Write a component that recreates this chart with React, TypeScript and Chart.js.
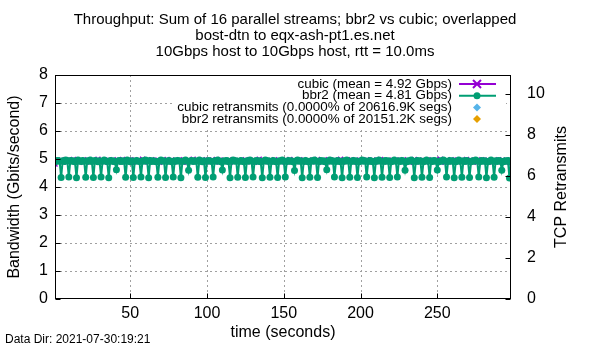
import React, { useEffect, useRef } from "react";
import { Chart, registerables } from "chart.js";
Chart.register(...registerables);

const FONT = '"Liberation Sans", Arial, sans-serif';

const TITLE_LINES = [
  "Throughput: Sum of 16 parallel streams; bbr2 vs cubic; overlapped",
  "bost-dtn to eqx-ash-pt1.es.net",
  "10Gbps host to 10Gbps host, rtt = 10.0ms",
];
const X_LABEL = "time (seconds)";
const Y_LABEL = "Bandwidth (Gbits/second)";
const Y2_LABEL = "TCP Retransmits";
const DATA_DIR = "Data Dir: 2021-07-30:19:21";

const X_MIN = 1;
const X_MAX = 298;
const X_TICKS = [50, 100, 150, 200, 250];
const Y_TICKS = [0, 1, 2, 3, 4, 5, 6, 7, 8];
const Y2_TICKS = [0, 2, 4, 6, 8, 10];
const Y2_MAX = 10.93;

const START_TIME = 1;

const LABEL_CUBIC = "cubic (mean = 4.92 Gbps)";
const LABEL_BBR2 = "bbr2 (mean = 4.81 Gbps)";
const LABEL_CUBIC_RETR = "cubic retransmits (0.0000% of 20616.9K segs)";
const LABEL_BBR2_RETR = "bbr2 retransmits (0.0000% of 20151.2K segs)";

const CUBIC = [
  4.82, 4.93, 4.95, 4.91, 4.96, 4.90, 4.94, 4.97, 4.89, 4.93, 4.95, 4.92, 4.98, 4.90, 4.93, 4.94, 4.88, 4.96, 4.92, 4.95,
  4.91, 4.97, 4.93, 4.89, 4.94, 4.96, 4.90, 4.92, 4.99, 4.91, 4.93, 4.95, 4.88, 4.94, 4.92, 4.96, 4.90, 4.93, 4.97, 4.91,
  4.94, 4.89, 4.95, 4.92, 4.98, 4.90, 4.93, 4.91, 4.96, 4.94, 4.88, 4.93, 4.97, 4.92, 4.90, 4.95, 4.93, 4.99, 4.89, 4.92,
  4.95, 4.91, 4.94, 4.97, 4.90, 4.93, 4.92, 4.96, 4.88, 4.94, 4.91, 4.95, 4.93, 4.98, 4.90, 4.92, 4.96, 4.89, 4.94, 4.93,
  4.91, 4.97, 4.92, 4.90, 4.95, 4.93, 4.88, 4.96, 4.92, 4.94, 4.99, 4.90, 4.93, 4.91, 4.95, 4.92, 4.97, 4.89, 4.94, 4.92,
  4.96, 4.90, 4.93, 4.95, 4.91, 4.98, 4.92, 4.89, 4.94, 4.93, 4.96, 4.90, 4.92, 4.95, 4.88, 4.94, 4.97, 4.91, 4.93, 4.92,
  4.95, 4.89, 4.94, 4.92, 4.97, 4.90, 4.93, 4.96, 4.91, 4.94, 4.88, 4.95, 4.92, 4.99, 4.90, 4.93, 4.91, 4.96, 4.94, 4.92,
  4.89, 4.95, 4.93, 4.97, 4.90, 4.92, 4.94, 4.91, 4.96, 4.93, 4.88, 4.95, 4.92, 4.98, 4.90, 4.94, 4.93, 4.91, 4.96, 4.92,
  4.94, 4.90, 4.97, 4.92, 4.89, 4.95, 4.93, 4.91, 4.96, 4.94, 4.90, 4.98, 4.92, 4.93, 4.88, 4.95, 4.91, 4.94, 4.97, 4.92,
  4.90, 4.93, 4.96, 4.91, 4.94, 4.92, 4.99, 4.89, 4.93, 4.95, 4.91, 4.94, 4.92, 4.97, 4.90, 4.93, 4.96, 4.88, 4.94, 4.92,
  4.95, 4.91, 4.93, 4.97, 4.90, 4.94, 4.92, 4.96, 4.89, 4.93, 4.95, 4.91, 4.98, 4.92, 4.90, 4.94, 4.93, 4.96, 4.91, 4.92,
  4.94, 4.89, 4.96, 4.93, 4.91, 4.95, 4.92, 4.97, 4.90, 4.93, 4.94, 4.88, 4.95, 4.92, 4.98, 4.91, 4.93, 4.96, 4.90, 4.94,
  4.92, 4.95, 4.91, 4.97, 4.89, 4.93, 4.94, 4.90, 4.96, 4.92, 4.93, 4.99, 4.91, 4.94, 4.88, 4.95, 4.92, 4.93, 4.97, 4.90,
  4.94, 4.92, 4.96, 4.91, 4.93, 4.89, 4.95, 4.92, 4.98, 4.90, 4.93, 4.94, 4.91, 4.96, 4.92, 4.88, 4.95, 4.93, 4.97, 4.91,
  4.93, 4.90, 4.96, 4.92, 4.94, 4.89, 4.95, 4.93, 4.91, 4.97, 4.92, 4.90, 4.94, 4.93, 4.96, 4.91, 4.88, 4.86,
];

const BBR2 = [
  4.90, 4.93, 4.95, 4.92, 4.34, 4.94, 4.91, 4.96, 4.93, 4.36, 4.95, 4.92, 4.94, 4.90, 4.33, 4.96, 4.93, 4.91, 4.95, 4.92,
  4.35, 4.94, 4.92, 4.96, 4.91, 4.34, 4.95, 4.93, 4.90, 4.94, 4.36, 4.92, 4.96, 4.93, 4.91, 4.33, 4.95, 4.92, 4.94, 4.90,
  4.62, 4.93, 4.95, 4.91, 4.94, 4.92, 4.35, 4.96, 4.93, 4.90, 4.94, 4.34, 4.92, 4.95, 4.93, 4.91, 4.36, 4.94, 4.92, 4.96,
  4.93, 4.33, 4.95, 4.91, 4.94, 4.92, 4.90, 4.35, 4.93, 4.96, 4.92, 4.94, 4.34, 4.91, 4.95, 4.93, 4.90, 4.36, 4.94, 4.92,
  4.95, 4.93, 4.33, 4.91, 4.94, 4.96, 4.92, 4.60, 4.93, 4.95, 4.91, 4.94, 4.92, 4.35, 4.96, 4.93, 4.90, 4.94, 4.34, 4.92,
  4.95, 4.93, 4.91, 4.36, 4.94, 4.92, 4.96, 4.93, 4.90, 4.61, 4.94, 4.92, 4.95, 4.91, 4.33, 4.93, 4.96, 4.92, 4.94, 4.35,
  4.91, 4.95, 4.93, 4.90, 4.34, 4.94, 4.92, 4.96, 4.93, 4.36, 4.91, 4.95, 4.92, 4.94, 4.90, 4.33, 4.93, 4.96, 4.92, 4.94,
  4.35, 4.91, 4.95, 4.93, 4.90, 4.34, 4.94, 4.92, 4.96, 4.93, 4.36, 4.91, 4.95, 4.92, 4.94, 4.90, 4.59, 4.93, 4.96, 4.92,
  4.94, 4.33, 4.91, 4.95, 4.93, 4.90, 4.35, 4.94, 4.92, 4.96, 4.93, 4.34, 4.91, 4.95, 4.92, 4.94, 4.90, 4.62, 4.93, 4.96,
  4.92, 4.94, 4.36, 4.91, 4.95, 4.93, 4.90, 4.33, 4.94, 4.92, 4.96, 4.93, 4.35, 4.91, 4.95, 4.92, 4.94, 4.34, 4.90, 4.93,
  4.96, 4.92, 4.94, 4.36, 4.91, 4.95, 4.93, 4.90, 4.33, 4.94, 4.92, 4.96, 4.93, 4.35, 4.91, 4.95, 4.92, 4.94, 4.34, 4.90,
  4.93, 4.96, 4.92, 4.36, 4.94, 4.91, 4.95, 4.93, 4.60, 4.90, 4.94, 4.92, 4.96, 4.93, 4.33, 4.91, 4.95, 4.92, 4.94, 4.35,
  4.90, 4.93, 4.96, 4.92, 4.34, 4.94, 4.91, 4.95, 4.93, 4.61, 4.90, 4.94, 4.92, 4.96, 4.93, 4.36, 4.91, 4.95, 4.92, 4.94,
  4.33, 4.90, 4.93, 4.96, 4.92, 4.35, 4.94, 4.91, 4.95, 4.93, 4.34, 4.90, 4.94, 4.92, 4.96, 4.93, 4.36, 4.91, 4.95, 4.92,
  4.94, 4.33, 4.90, 4.93, 4.96, 4.92, 4.35, 4.94, 4.91, 4.95, 4.93, 4.60, 4.90, 4.94, 4.92, 4.95, 4.32, 4.90,
];

const CUBIC_RETRANS: number[] = [];
const BBR2_RETRANS: number[] = [];

const COLOR_CUBIC = "#9400d3";
const COLOR_BBR2 = "#009e73";
const COLOR_CUBIC_RETR = "#56b4e9";
const COLOR_BBR2_RETR = "#e69f00";

const toPoints = (arr: number[]) => arr.map((v, i) => ({ x: START_TIME + i, y: v }));

const decorPlugin = {
  id: "decor",
  beforeDatasetsDraw(chart: any) {
    const { ctx, chartArea: a, scales } = chart;
    ctx.save();
    ctx.strokeStyle = "#a0a0a0";
    ctx.lineWidth = 1;
    ctx.setLineDash([2, 3]);
    for (const v of X_TICKS) {
      const x = Math.round(scales.x.getPixelForValue(v)) + 0.5;
      ctx.beginPath();
      ctx.moveTo(x, a.top);
      ctx.lineTo(x, a.bottom);
      ctx.stroke();
    }
    for (const v of Y_TICKS) {
      if (v === 0 || v === 8) continue;
      const y = Math.round(scales.y.getPixelForValue(v)) + 0.5;
      ctx.beginPath();
      ctx.moveTo(a.left, y);
      ctx.lineTo(a.right, y);
      ctx.stroke();
    }
    ctx.restore();
  },
  afterDraw(chart: any) {
    const { ctx, chartArea: a, scales } = chart;
    ctx.save();
    // legend
    ctx.font = `13.4px ${FONT}`;
    const ds = chart.data.datasets;
    const textRight = a.right - 59;
    let maxW = 0;
    for (const d of ds) maxW = Math.max(maxW, ctx.measureText(d.label).width);
    ctx.fillStyle = "#fff";
    ctx.fillRect(textRight - maxW - 4, a.top + 1, a.right - 5 - (textRight - maxW - 4), 51);
    ds.forEach((d: any, i: number) => {
      const y = a.top + 9 + i * 11.7;
      ctx.fillStyle = "#000";
      ctx.textAlign = "right";
      ctx.textBaseline = "middle";
      ctx.fillText(d.label, textRight, y);
      const mx = textRight + 25;
      ctx.fillStyle = d.borderColor;
      ctx.strokeStyle = d.borderColor;
      if (d.showLine !== false) {
        ctx.lineWidth = 2;
        ctx.beginPath();
        ctx.moveTo(textRight + 7, y);
        ctx.lineTo(textRight + 44, y);
        ctx.stroke();
      }
      if (d.pointStyle === "crossRot") {
        ctx.lineWidth = 2;
        ctx.beginPath();
        ctx.moveTo(mx - 4, y - 4);
        ctx.lineTo(mx + 4, y + 4);
        ctx.moveTo(mx - 4, y + 4);
        ctx.lineTo(mx + 4, y - 4);
        ctx.stroke();
      } else if (d.pointStyle === "circle") {
        ctx.beginPath();
        ctx.arc(mx, y, 3.5, 0, Math.PI * 2);
        ctx.fill();
      } else {
        ctx.beginPath();
        ctx.moveTo(mx, y - 4);
        ctx.lineTo(mx + 4, y);
        ctx.lineTo(mx, y + 4);
        ctx.lineTo(mx - 4, y);
        ctx.closePath();
        ctx.fill();
      }
    });
    // border
    ctx.strokeStyle = "#000";
    ctx.lineWidth = 1;
    ctx.setLineDash([]);
    const L = Math.round(a.left) + 0.5;
    const R = Math.round(a.right) - 0.5;
    const T = Math.round(a.top) + 0.5;
    const B = Math.round(a.bottom) - 0.5;
    ctx.strokeRect(L, T, R - L, B - T);
    // inward tick marks
    ctx.beginPath();
    for (const v of Y_TICKS) {
      const y = Math.round(scales.y.getPixelForValue(v)) + 0.5;
      ctx.moveTo(L, y);
      ctx.lineTo(L + 5, y);
    }
    for (const v of Y2_TICKS) {
      const y = Math.round(scales.y2.getPixelForValue(v)) + 0.5;
      ctx.moveTo(R, y);
      ctx.lineTo(R - 5, y);
    }
    for (const v of X_TICKS) {
      const x = Math.round(scales.x.getPixelForValue(v)) + 0.5;
      ctx.moveTo(x, B);
      ctx.lineTo(x, B - 5);
    }
    ctx.stroke();
    // titles
    ctx.fillStyle = "#000";
    ctx.textAlign = "center";
    ctx.textBaseline = "middle";
    ctx.font = `15px ${FONT}`;
    TITLE_LINES.forEach((t, i) => ctx.fillText(t, 295, 20 + i * 16));
    ctx.font = `16px ${FONT}`;
    ctx.fillText(X_LABEL, (a.left + a.right) / 2, 333);
    const cy = (a.top + a.bottom) / 2;
    ctx.save();
    ctx.translate(15, cy);
    ctx.rotate(-Math.PI / 2);
    ctx.fillText(Y_LABEL, 0, 0);
    ctx.restore();
    ctx.save();
    ctx.translate(562, cy);
    ctx.rotate(-Math.PI / 2);
    ctx.fillText(Y2_LABEL, 0, 0);
    ctx.restore();
    ctx.font = `12px ${FONT}`;
    ctx.textAlign = "left";
    ctx.fillText(DATA_DIR, 5, 340);
    ctx.restore();
  },
};

export default function App() {
  const ref = useRef<HTMLCanvasElement>(null);
  useEffect(() => {
    if (!ref.current) return;
    Chart.defaults.font.family = FONT;
    Chart.defaults.color = "#000";
    const chart = new Chart(ref.current, {
      type: "line",
      data: {
        datasets: [
          {
            label: LABEL_CUBIC,
            data: toPoints(CUBIC),
            borderColor: COLOR_CUBIC,
            backgroundColor: COLOR_CUBIC,
            borderWidth: 2,
            pointStyle: "crossRot",
            pointRadius: 3.5,
            pointBorderWidth: 1.5,
            tension: 0,
            order: 1,
            yAxisID: "y",
          },
          {
            label: LABEL_BBR2,
            data: toPoints(BBR2),
            borderColor: COLOR_BBR2,
            backgroundColor: COLOR_BBR2,
            borderWidth: 2,
            pointStyle: "circle",
            pointRadius: 3.5,
            pointBorderWidth: 0,
            tension: 0,
            order: 0,
            yAxisID: "y",
          },
          {
            label: LABEL_CUBIC_RETR,
            data: toPoints(CUBIC_RETRANS),
            borderColor: COLOR_CUBIC_RETR,
            backgroundColor: COLOR_CUBIC_RETR,
            showLine: false,
            pointStyle: "rectRot",
            pointRadius: 3,
            order: 2,
            yAxisID: "y2",
          },
          {
            label: LABEL_BBR2_RETR,
            data: toPoints(BBR2_RETRANS),
            borderColor: COLOR_BBR2_RETR,
            backgroundColor: COLOR_BBR2_RETR,
            showLine: false,
            pointStyle: "rectRot",
            pointRadius: 3,
            order: 3,
            yAxisID: "y2",
          },
        ] as any,
      },
      options: {
        responsive: false,
        animation: false,
        layout: { padding: { top: 75, left: 0, right: 0, bottom: 0 } },
        plugins: { legend: { display: false }, tooltip: { enabled: false }, title: { display: false } },
        scales: {
          x: {
            type: "linear",
            min: X_MIN,
            max: X_MAX,
            afterBuildTicks: (s: any) => {
              s.ticks = X_TICKS.map((v) => ({ value: v }));
            },
            afterFit: (s: any) => {
              s.height = 51;
            },
            ticks: { padding: 5, maxRotation: 0, autoSkip: false, font: { size: 16 } },
            grid: { display: false, drawTicks: false },
            border: { display: false },
          },
          y: {
            position: "left",
            min: 0,
            max: 8,
            afterBuildTicks: (s: any) => {
              s.ticks = Y_TICKS.map((v) => ({ value: v }));
            },
            afterFit: (s: any) => {
              s.width = 55;
            },
            ticks: { padding: 7, font: { size: 16 } },
            grid: { display: false, drawTicks: false },
            border: { display: false },
          },
          y2: {
            position: "right",
            min: 0,
            max: Y2_MAX,
            afterBuildTicks: (s: any) => {
              s.ticks = Y2_TICKS.map((v) => ({ value: v }));
            },
            afterFit: (s: any) => {
              s.width = 89;
            },
            ticks: { padding: 16, font: { size: 16 } },
            grid: { display: false, drawTicks: false },
            border: { display: false },
          },
        },
      } as any,
      plugins: [decorPlugin],
    });
    return () => chart.destroy();
  }, []);
  return (
    <div style={{ position: "absolute", left: 0, top: 0, width: 600, height: 350, background: "#fff" }}>
      <canvas ref={ref} width={600} height={350} />
    </div>
  );
}
